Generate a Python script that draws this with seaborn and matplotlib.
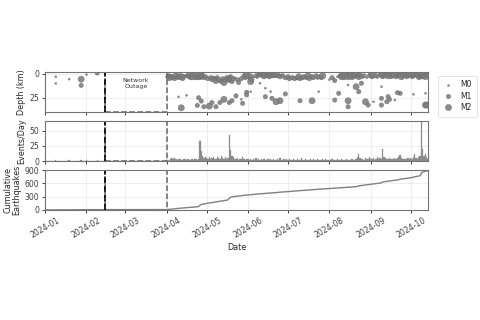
import numpy as np
import pandas as pd
import matplotlib
matplotlib.use("Agg")
import matplotlib.pyplot as plt
import matplotlib.dates as mdates
import seaborn as sns

# ---------------- data ----------------
# earthquake catalogue: date, depth (km), magnitude class
eq_date = [
    "01-09", "01-09", "01-19", "01-28", "01-28", "02-01", "02-09",
    # deep / mid events
    "04-10", "04-12", "04-16", "04-24", "04-25", "04-27", "04-29", "05-03", "05-05", "05-08",
    "05-11", "05-14", "05-18", "05-20", "05-23", "05-27", "06-03", "06-03", "05-31", "05-31",
    "05-28", "06-10", "06-14", "06-14", "06-18", "06-19", "06-25", "06-22", "06-29", "07-10",
    "07-19", "07-24", "08-08", "08-05", "08-15", "08-15", "08-21", "08-23", "08-15", "08-28",
    "08-30", "09-03", "09-09", "09-09", "09-13", "09-14", "09-19", "09-23", "09-09", "10-03",
    "10-12", "10-12", "08-25", "09-21", "10-13", "09-15",
    # shallow band
    "04-02", "04-03", "04-03", "04-04", "04-05", "04-05", "04-06", "04-07", "04-08", "04-09",
    "04-10", "04-11", "04-12", "04-13", "04-14", "04-15",
    "04-17", "04-18", "04-18", "04-19", "04-20", "04-21", "04-22", "04-23", "04-24", "04-25",
    "04-26", "04-26", "04-27", "04-27", "04-28", "04-29", "04-30",
    "05-02", "05-04", "05-05", "05-06", "05-07", "05-08", "05-09", "05-10", "05-12", "05-13",
    "05-14", "05-15", "05-16", "05-18", "05-18", "05-19", "05-19", "05-20", "05-21", "05-22",
    "05-24", "05-25", "05-27",
    "05-29", "05-30", "05-31", "06-01", "06-02", "06-03", "06-04", "06-05", "06-07", "06-08", "06-09",
    "06-10", "06-11", "06-12", "06-12", "06-13", "06-14", "06-15", "06-16", "06-17", "06-17",
    "06-18", "06-19", "06-20", "06-21", "06-22", "06-23", "06-24", "06-25", "06-26", "06-27",
    "06-29", "07-01", "07-02", "07-04", "07-05", "07-06", "07-08", "07-09", "07-10", "07-12",
    "07-13", "07-15", "07-16", "07-17", "07-19", "07-20", "07-22", "07-23", "07-24", "07-26", "07-27",
    "08-01", "08-03", "08-05", "08-07",
    "08-09", "08-10", "08-11", "08-12", "08-13", "08-14", "08-15", "08-16", "08-17", "08-18",
    "08-19", "08-20", "08-21", "08-22", "08-23", "08-24", "08-25", "08-27", "08-29",
    "08-31", "09-01", "09-02", "09-03", "09-05", "09-06", "09-08", "09-09", "09-10", "09-10",
    "09-11", "09-12",
    "09-13", "09-14", "09-15", "09-16", "09-17", "09-18", "09-19", "09-20", "09-21", "09-22",
    "09-23", "09-24", "09-25", "09-26", "09-27", "09-28", "09-29", "09-30", "10-01", "10-02",
    "10-03", "10-04", "10-05", "10-06", "10-07", "10-08", "10-09", "10-09", "10-09", "10-10",
    "10-10", "10-11", "10-12", "10-12", "10-13", "10-14",
]
eq_depth = [
    3, 10, 5.5, 5.5, 12, 0.7, -1,
    24, 35.5, 22.5, 33, 25, 28.4, 34.4, 33.7, 30, 34.4,
    30, 26.7, 30, 28, 23, 26.7, 8.1, 18.6, 19.3, 22,
    30.8, 9.8, 15, 23.9, 18.6, 25.6, 28.1, 29.2, 21, 28.1,
    28.1, 18.6, 20.3, 27.4, 28.1, 34.4, 13.4, 18.6, 11.6, 29.2,
    32.6, 29.2, 25.6, 32.6, 29.2, 23.9, 27.4, 20.3, 13.4, 21.4,
    20.3, 32.6, 9.8, 19.7, 32.6, 26.7,
    3, 2, 4, 3, 2, 4, 3, 5, 2, 3,
    4, 2, 3, 5, 3, 2,
    2, 3, 1, 4, 2, 3, 1, 4, 2, 3,
    2, 4, 1, 3, 2, 4, 3,
    5, 4, 6, 3, 5, 7, 4, 6, 8, 5,
    9, 6, 4, 5, 7, 3, 6, 8, 5, 4,
    6, 9, 5,
    2, 4, 1, 3, 5, 2, 6, 3, 2, 4, 1,
    1, 0, 2, -1, 3, 1, 0, 2, 1, 3,
    -1, 2, 1, 2, 3, 1, 2, 3, 1, 2,
    4, 3, 5, 4, 3, 5, 4, 3, 5, 4,
    3, 4, 2, 5, 3, 4, 2, 5, 3, 4, 2,
    6, 4, 7, 3,
    2, 3, 1, 4, 2, 0, 3, 1, 2, 4,
    1, 3, 0, 2, 4, 1, 3, 2, 4,
    2, 0, 3, 1, 2, 4, 1, 2, 0, 3,
    1, 2,
    0, 2, 1, 3, 0, 2, 1, 3, 0, 2,
    1, 3, 2, 0, 1, 3, 2, 0, 1, 3,
    2, 0, 1, 2, 4, 1, 0, 2, 3, 1,
    -1, 2, 0, 3, 1, 2,
]
eq_mag = [
    "M0", "M0", "M0", "M2", "M1", "M0", "M1",
    "M0", "M2", "M0", "M1", "M1", "M1", "M1", "M2", "M1", "M1",
    "M1", "M2", "M1", "M1", "M1", "M0", "M2", "M0", "M1", "M1",
    "M1", "M0", "M0", "M1", "M0", "M1", "M2", "M2", "M1", "M1",
    "M2", "M0", "M1", "M1", "M2", "M1", "M2", "M1", "M0", "M2",
    "M1", "M0", "M1", "M1", "M1", "M1", "M0", "M1", "M0", "M0",
    "M0", "M2", "M1", "M1", "M2", "M1",
    "M1", "M1", "M2", "M1", "M0", "M1", "M1", "M1", "M2", "M1",
    "M1", "M1", "M2", "M1", "M1", "M0",
    "M1", "M1", "M2", "M1", "M1", "M2", "M1", "M1", "M1", "M2",
    "M1", "M1", "M2", "M1", "M1", "M1", "M1",
    "M1", "M1", "M1", "M0", "M1", "M2", "M1", "M1", "M1", "M1",
    "M2", "M1", "M1", "M2", "M1", "M1", "M1", "M1", "M1", "M0",
    "M1", "M1", "M1",
    "M1", "M1", "M2", "M1", "M0", "M1", "M1", "M0", "M1", "M0", "M1",
    "M1", "M2", "M1", "M1", "M1", "M2", "M1", "M1", "M1", "M1",
    "M2", "M1", "M1", "M1", "M0", "M1", "M1", "M1", "M0", "M1",
    "M1", "M1", "M1", "M1", "M0", "M1", "M1", "M2", "M1", "M1",
    "M1", "M1", "M2", "M1", "M1", "M1", "M1", "M0", "M1", "M1", "M2",
    "M0", "M1", "M1", "M0",
    "M1", "M2", "M1", "M1", "M2", "M1", "M2", "M1", "M2", "M1",
    "M1", "M1", "M2", "M1", "M1", "M1", "M1", "M1", "M0",
    "M1", "M1", "M1", "M2", "M1", "M0", "M1", "M1", "M2", "M1",
    "M1", "M1",
    "M1", "M2", "M1", "M1", "M1", "M1", "M2", "M1", "M1", "M1",
    "M1", "M2", "M1", "M1", "M1", "M1", "M1", "M2", "M1", "M1",
    "M1", "M2", "M1", "M1", "M1", "M2", "M1", "M2", "M1", "M1",
    "M2", "M1", "M1", "M2", "M1", "M1",
]

# daily event counts
pre_dates = ["01-09", "01-19", "01-28", "02-01", "02-09"]
pre_counts = [2, 1, 2, 1, 1]

apr_counts = [1, 2, 0, 3, 5, 4, 5, 3, 2, 4, 3, 2, 1, 3, 4, 2, 3, 2, 1, 3, 2, 4, 3, 2, 3,
              33, 16, 8, 5, 6]
may_counts = [5, 4, 6, 3, 5, 7, 4, 3, 6, 5, 4, 8, 5, 3, 6, 4, 5,
              42, 18, 9, 6, 4, 3, 5, 2, 4, 3, 6, 3, 2, 4]
jun_counts = [3, 2, 4, 1, 3, 2, 5, 2, 3, 1, 4, 2, 3, 2, 1, 3, 2, 4, 2, 3, 1, 2, 3, 2, 5,
              2, 1, 3, 2, 3]
jul_counts = [2, 3, 1, 2, 4, 2, 1, 3, 2, 2, 5, 1, 2, 3, 2, 1, 2, 3, 2, 4, 2, 1, 3, 2, 2,
              1, 3, 2, 4, 2, 1]
aug_counts = [2, 1, 3, 2, 1, 2, 3, 1, 2, 4, 2, 1, 2, 3, 1, 2, 2, 3, 1, 2, 4, 6, 11, 5, 3,
              4, 2, 5, 3, 4, 6]
sep_counts = [4, 3, 5, 2, 4, 6, 3, 5, 4, 19, 6, 5, 3, 4, 5, 3, 4, 4, 5, 3, 5, 6, 10, 5, 4,
              4, 3, 4, 5, 4]
oct_counts = [5, 4, 6, 12, 5, 3, 6, 8, 64, 20, 8, 12, 6, 4]

outage_start = "2024-02-15"
outage_end = "2024-04-01"

# ---------------- frames ----------------
eq = pd.DataFrame({
    "date": pd.to_datetime(["2024-" + d for d in eq_date]),
    "depth": eq_depth,
    "mag": eq_mag,
})

post_counts = apr_counts + may_counts + jun_counts + jul_counts + aug_counts + sep_counts + oct_counts
post_index = pd.date_range("2024-04-01", periods=len(post_counts), freq="D")
daily = pd.Series(post_counts, index=post_index)
daily = pd.concat([pd.Series(pre_counts, index=pd.to_datetime(["2024-" + d for d in pre_dates])), daily])
full_index = pd.date_range("2024-01-01", "2024-10-14", freq="D")
daily = daily.reindex(full_index, fill_value=0)
cum = daily.cumsum()

# ---------------- plot ----------------
sns.set_theme(style="whitegrid", rc={
    "axes.edgecolor": "0.45", "axes.linewidth": 0.8,
    "grid.color": "0.92", "grid.linewidth": 0.6,
    "xtick.bottom": True, "ytick.left": True,
    "xtick.major.size": 2.5, "ytick.major.size": 2.5,
    "xtick.major.width": 0.7, "ytick.major.width": 0.7,
    "xtick.major.pad": 1.5, "ytick.major.pad": 1.5,
    "xtick.color": "0.25", "ytick.color": "0.25",
    "xtick.labelsize": 5.6, "ytick.labelsize": 5.6,
    "axes.labelsize": 5.8, "axes.labelcolor": "0.15", "axes.labelpad": 2.5,
})

fig, axes = plt.subplots(3, 1, figsize=(4.8, 3.2), dpi=100, sharex=True)
fig.subplots_adjust(left=0.094, right=0.892, top=0.775, bottom=0.344, hspace=0.22)
ax1, ax2, ax3 = axes

sns.scatterplot(data=eq, x="date", y="depth", size="mag",
                sizes={"M0": 2, "M1": 10, "M2": 20}, size_order=["M0", "M1", "M2"],
                color="0.5", edgecolor="0.4", linewidth=0.3, alpha=0.9, ax=ax1)
ax1.set_ylim(40, -2)
ax1.set_yticks([0, 25])
ax1.set_ylabel("Depth (km)")
leg = ax1.legend(loc="upper left", bbox_to_anchor=(1.015, 1.0), fontsize=5.5, title=None,
                 frameon=True, handletextpad=0.9, borderpad=0.6, labelspacing=0.3,
                 handlelength=1.5, markerscale=1.0)
leg.get_frame().set_edgecolor("0.85")
leg.get_frame().set_linewidth(0.6)

ax2.bar(daily.index, daily.values, width=1.0, color="0.55", edgecolor="0.55", linewidth=0.2)
ax2.set_ylim(0, 66)
ax2.set_yticks([0, 25, 50])
ax2.set_ylabel("Events/Day")

sns.lineplot(x=cum.index, y=cum.values, color="0.5", linewidth=1.0, ax=ax3)
ax3.set_ylim(0, 905)
ax3.set_yticks([0, 300, 600, 900])
ax3.set_ylabel("Cumulative\nEarthquakes", linespacing=1.0)
ax3.set_xlabel("Date")

for ax in axes:
    ax.axvspan(pd.Timestamp(outage_start), pd.Timestamp(outage_end), ymin=0, ymax=1,
               fill=False, linestyle="--", edgecolor="0.4", linewidth=1.1)
    ax.axvline(pd.Timestamp(outage_start), color="black", linestyle="--", linewidth=1.2)
    ax.set_xlim(pd.Timestamp("2024-01-01"), pd.Timestamp("2024-10-14"))
    for s in ax.spines.values():
        s.set_color("0.45")
        s.set_zorder(3)

ax1.text(pd.Timestamp("2024-03-09"), 10, "Network\nOutage", ha="center", va="center",
         fontsize=4.5, color="0.2")

ax3.xaxis.set_major_locator(mdates.MonthLocator())
ax3.xaxis.set_major_formatter(mdates.DateFormatter("%Y-%m"))
for lab in ax3.get_xticklabels():
    lab.set_rotation(30)
    lab.set_ha("center")

fig.savefig("out.png", dpi=100)
